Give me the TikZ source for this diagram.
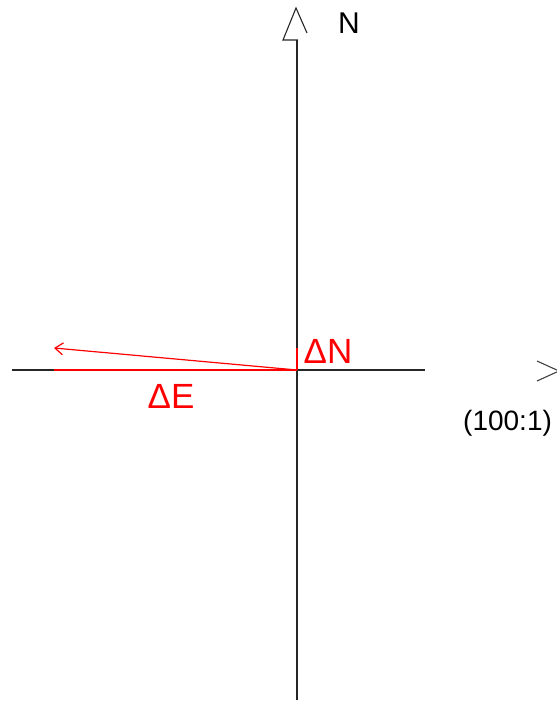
\documentclass[tikz,border=0pt]{standalone}
\usepackage{fontspec}
\setmainfont{Liberation Sans}
\usetikzlibrary{arrows.meta}
\begin{document}
\begin{tikzpicture}[x=1pt,y=-1pt,
  axis/.style={draw=black!85,line width=1.1pt},
  redline/.style={draw=red,line width=1.4pt},
  lbl/.style={inner sep=0pt,font=\fontsize{30}{32}\selectfont},
  redlbl/.style={inner sep=0pt,text=red,font=\fontsize{35}{37}\selectfont}]
\useasboundingbox (0,0) rectangle (557,702);
\clip (0,0) rectangle (557,702);
% coordinates
\coordinate (O) at (297,370);
\coordinate (Wend) at (12,370);
\coordinate (Eend) at (425,370);
\coordinate (Sbot) at (297,700);
\coordinate (Ntop) at (297,40);
\coordinate (Rw) at (54,370);
\coordinate (Rn) at (297,348);
\coordinate (Tip) at (54,348);
% axes
\draw[axis] (Wend) -- (Eend);
\draw[axis] (Ntop) -- (Sbot);
% north arrowhead (open)
\draw[axis,line join=miter] (298,40) -- (283,40) -- (296,8) -- (307,33);
% east arrowhead (partly outside)
\draw[draw=black!75,line width=1.1pt] (537,361) -- (559,371) -- (537,381);
% red components
\draw[redline] (Rw) -- (O);
\draw[redline] (O) -- (Rn);
\draw[draw=red,line width=1.2pt,-{Straight Barb[length=8pt,width=12pt,line width=1.2pt]}] (O) -- (Tip);
% labels
\node[lbl] (nlab) at (349,23) {N};
\node[lbl,font=\fontsize{28}{30}\selectfont,anchor=west] (scale) at (463,423) {(100:1)};
\node[redlbl] (dn) at (328,351) {ΔN};
\node[redlbl] (de) at (171,396) {ΔE};
\end{tikzpicture}
\end{document}
